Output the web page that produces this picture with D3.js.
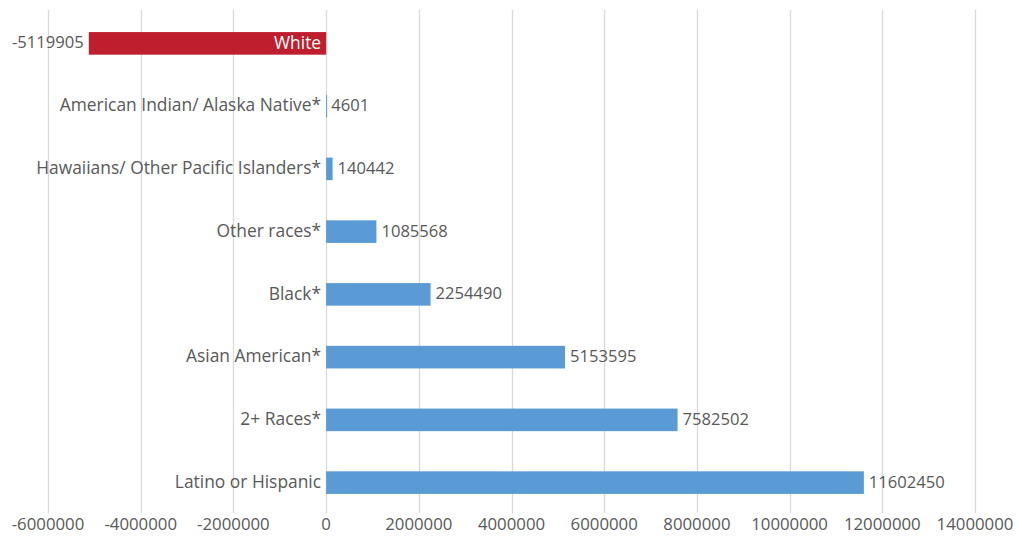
<!DOCTYPE html>
<html>
<head>
<meta charset="utf-8">
<script src="https://cdn.jsdelivr.net/npm/d3@7"></script>
<style>
  body { margin: 0; background: #fff; }
  text { font-family: "Open Sans", "Noto Sans", sans-serif; }
</style>
</head>
<body>
<script>
// data
var categories = ["White", "American Indian/ Alaska Native*", "Hawaiians/ Other Pacific Islanders*",
    "Other races*", "Black*", "Asian American*", "2+ Races*", "Latino or Hispanic"];
var values = [-5119905, 4601, 140442, 1085568, 2254490, 5153595, 7582502, 11602450];
var tickValues = [-6000000, -4000000, -2000000, 0, 2000000, 4000000, 6000000,
    8000000, 10000000, 12000000, 14000000];

var width = 1022, height = 538;
var textColor = "#595959";

var svg = d3.select("body").append("svg")
    .attr("width", width)
    .attr("height", height);

var xScale = d3.scaleLinear()
    .domain([-6000000, 14000000])
    .range([48, 975]);

var yScale = d3.scaleBand()
    .domain(categories)
    .range([12, 514])
    .paddingInner(0.64)
    .paddingOuter(0.32);

// gridlines
svg.append("g").attr("class", "grid")
    .selectAll("line")
    .data(tickValues)
    .join("line")
    .attr("x1", d => Math.round(xScale(d)) + 0.5)
    .attr("x2", d => Math.round(xScale(d)) + 0.5)
    .attr("y1", 10)
    .attr("y2", 513)
    .attr("stroke", "#d9d9d9")
    .attr("stroke-width", 1.3);

// tick labels
svg.append("g").attr("class", "ticks")
    .selectAll("text")
    .data(tickValues)
    .join("text")
    .attr("x", d => xScale(d))
    .attr("y", 530)
    .attr("text-anchor", "middle")
    .attr("font-size", 16.8)
    .attr("fill", textColor)
    .text(d => d);

var rows = categories.map((c, i) => ({ cat: c, val: values[i] }));

// bars
svg.append("g").selectAll("rect")
    .data(rows)
    .join("rect")
    .attr("x", d => xScale(Math.min(0, d.val)))
    .attr("y", d => yScale(d.cat))
    .attr("width", d => Math.max(1, Math.abs(xScale(d.val) - xScale(0))))
    .attr("height", yScale.bandwidth())
    .attr("fill", d => d.val < 0 ? "#be1e2d" : "#5b9bd5");

// category labels
svg.append("g").selectAll("text")
    .data(rows)
    .join("text")
    .attr("x", xScale(0) - 5)
    .attr("y", d => yScale(d.cat) + yScale.bandwidth() / 2)
    .attr("dy", "0.3em")
    .attr("text-anchor", "end")
    .attr("font-size", 17.4)
    .attr("fill", d => d.val < 0 ? "#fff" : textColor)
    .text(d => d.cat);

// value labels
svg.append("g").selectAll("text")
    .data(rows)
    .join("text")
    .attr("x", d => d.val < 0 ? xScale(d.val) - 5 : xScale(d.val) + 5)
    .attr("y", d => yScale(d.cat) + yScale.bandwidth() / 2)
    .attr("dy", "0.3em")
    .attr("text-anchor", d => d.val < 0 ? "end" : "start")
    .attr("font-size", 16.6)
    .attr("fill", textColor)
    .text(d => d.val);
</script>
</body>
</html>
